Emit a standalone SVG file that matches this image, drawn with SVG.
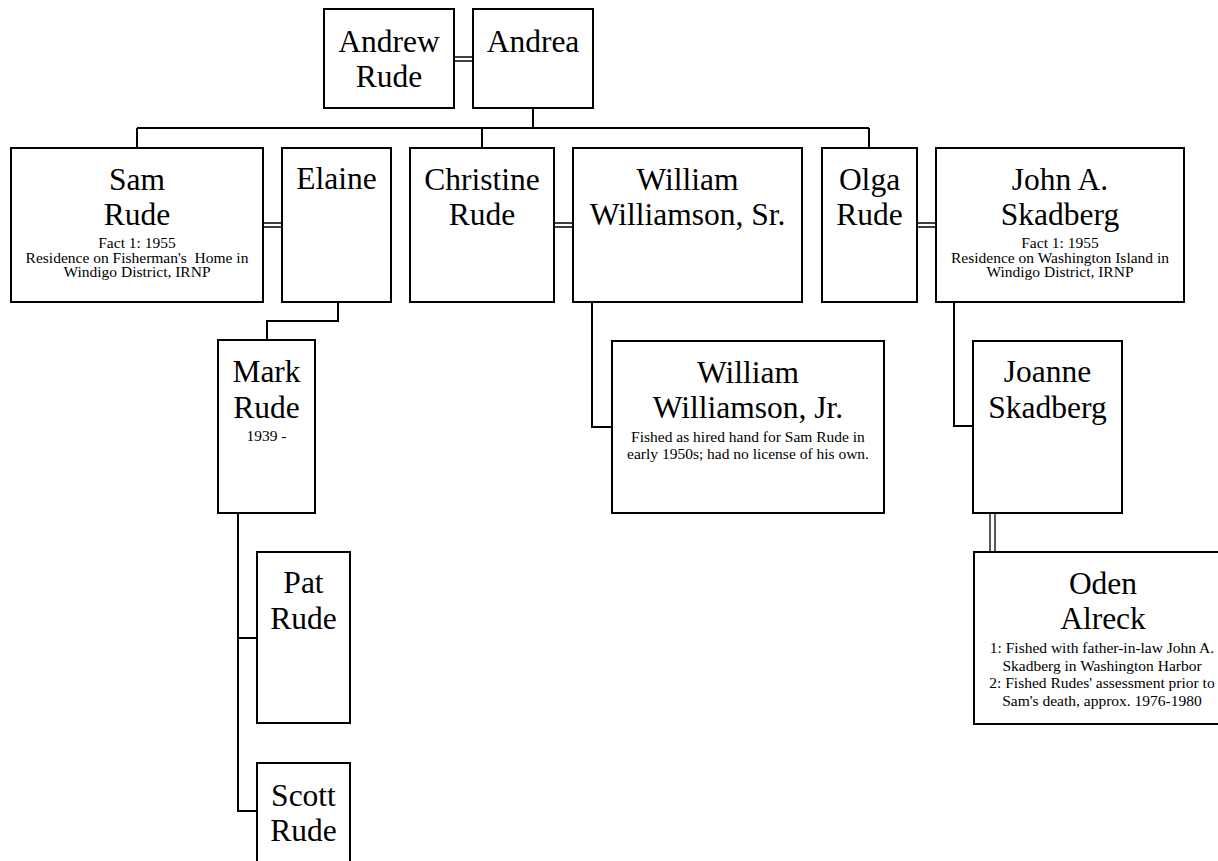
<svg xmlns="http://www.w3.org/2000/svg" width="1218" height="861" viewBox="0 0 1218 861">
  <style>
    .box { fill: #ffffff; stroke: #000000; stroke-width: 2; }
    .link { fill: none; stroke: #000000; stroke-width: 2; }
    .marr { fill: none; stroke: #000000; stroke-width: 1.3; }
    text { fill: #000000; text-anchor: middle; }
    .name { font-size: 31.5px; }
    .note { font-size: 15.5px; }
  </style>
  <rect width="1218" height="861" fill="#ffffff"/>

  <!-- connectors: parent/child lines and double marriage lines -->
  <g id="connectors">
    <path class="marr" d="M454 57 H473 M454 61 H473"/>
    <path class="link" d="M533 108 V128 M137 128 H869 M137 128 V148 M482 128 V148 M869 128 V148"/>
    <path class="marr" d="M263 223 H282 M263 227 H282"/>
    <path class="marr" d="M554 223 H573 M554 227 H573"/>
    <path class="marr" d="M917 223 H936 M917 227 H936"/>
    <path class="link" d="M338 302 V321 H267 V340"/>
    <path class="link" d="M238 513 V811 H257 M238 638 H257"/>
    <path class="link" d="M592 302 V427 H612"/>
    <path class="link" d="M954 302 V426 H973"/>
    <path class="marr" d="M990 513 V552 M995 513 V552"/>
  </g>

  <g font-family="'Liberation Serif', 'DejaVu Serif', serif">
  <g id="andrew-rude">
    <rect class="box" x="324" y="9" width="130" height="99"/>
    <text class="name" x="389" y="52">Andrew</text>
    <text class="name" x="389" y="87">Rude</text>
  </g>
  <g id="andrea">
    <rect class="box" x="473" y="9" width="120" height="99"/>
    <text class="name" x="533" y="52">Andrea</text>
  </g>

  <g id="sam-rude">
    <rect class="box" x="11" y="148" width="252" height="154"/>
    <text class="name" x="137" y="190">Sam</text>
    <text class="name" x="137" y="225">Rude</text>
    <text class="note" x="137" y="248">Fact 1: 1955</text>
    <text class="note" x="137" y="262.5" xml:space="preserve">Residence on Fisherman's  Home in</text>
    <text class="note" x="137" y="277">Windigo District, IRNP</text>
  </g>
  <g id="elaine">
    <rect class="box" x="282" y="148" width="109" height="154"/>
    <text class="name" x="336.5" y="189">Elaine</text>
  </g>

  <g id="christine-rude">
    <rect class="box" x="410" y="148" width="144" height="154"/>
    <text class="name" x="482" y="190">Christine</text>
    <text class="name" x="482" y="225">Rude</text>
  </g>
  <g id="william-williamson-sr">
    <rect class="box" x="573" y="148" width="229" height="154"/>
    <text class="name" x="687.5" y="190">William</text>
    <text class="name" x="687.5" y="225">Williamson, Sr.</text>
  </g>

  <g id="olga-rude">
    <rect class="box" x="822" y="148" width="95" height="154"/>
    <text class="name" x="869.5" y="190">Olga</text>
    <text class="name" x="869.5" y="225">Rude</text>
  </g>
  <g id="john-skadberg">
    <rect class="box" x="936" y="148" width="248" height="154"/>
    <text class="name" x="1060" y="190">John A.</text>
    <text class="name" x="1060" y="225">Skadberg</text>
    <text class="note" x="1060" y="248">Fact 1: 1955</text>
    <text class="note" x="1060" y="262.5">Residence on Washington Island in</text>
    <text class="note" x="1060" y="277">Windigo District, IRNP</text>
  </g>

  <g id="mark-rude">
    <rect class="box" x="218" y="340" width="97" height="173"/>
    <text class="name" x="266.5" y="382">Mark</text>
    <text class="name" x="266.5" y="418">Rude</text>
    <text class="note" x="266.5" y="441">1939 -</text>
  </g>

  <g id="william-williamson-jr">
    <rect class="box" x="612" y="341" width="272" height="172"/>
    <text class="name" x="748" y="383">William</text>
    <text class="name" x="748" y="418">Williamson, Jr.</text>
    <text class="note" x="748" y="441.5">Fished as hired hand for Sam Rude in</text>
    <text class="note" x="748" y="458.5">early 1950s; had no license of his own.</text>
  </g>

  <g id="joanne-skadberg">
    <rect class="box" x="973" y="341" width="149" height="172"/>
    <text class="name" x="1047.5" y="382">Joanne</text>
    <text class="name" x="1047.5" y="418">Skadberg</text>
  </g>

  <g id="oden-alreck">
    <rect class="box" x="974" y="552" width="258" height="172"/>
    <text class="name" x="1103" y="594">Oden</text>
    <text class="name" x="1103" y="629">Alreck</text>
    <text class="note" x="1102" y="653">1: Fished with father-in-law John A.</text>
    <text class="note" x="1102" y="670.5">Skadberg in Washington Harbor</text>
    <text class="note" x="1102" y="688">2: Fished Rudes' assessment prior to</text>
    <text class="note" x="1102" y="705.5">Sam's death, approx. 1976-1980</text>
  </g>

  <g id="pat-rude">
    <rect class="box" x="257" y="552" width="93" height="171"/>
    <text class="name" x="303.5" y="593">Pat</text>
    <text class="name" x="303.5" y="629">Rude</text>
  </g>

  <g id="scott-rude">
    <rect class="box" x="257" y="763" width="93" height="110"/>
    <text class="name" x="303.5" y="806">Scott</text>
    <text class="name" x="303.5" y="841">Rude</text>
  </g>
  </g>
</svg>
